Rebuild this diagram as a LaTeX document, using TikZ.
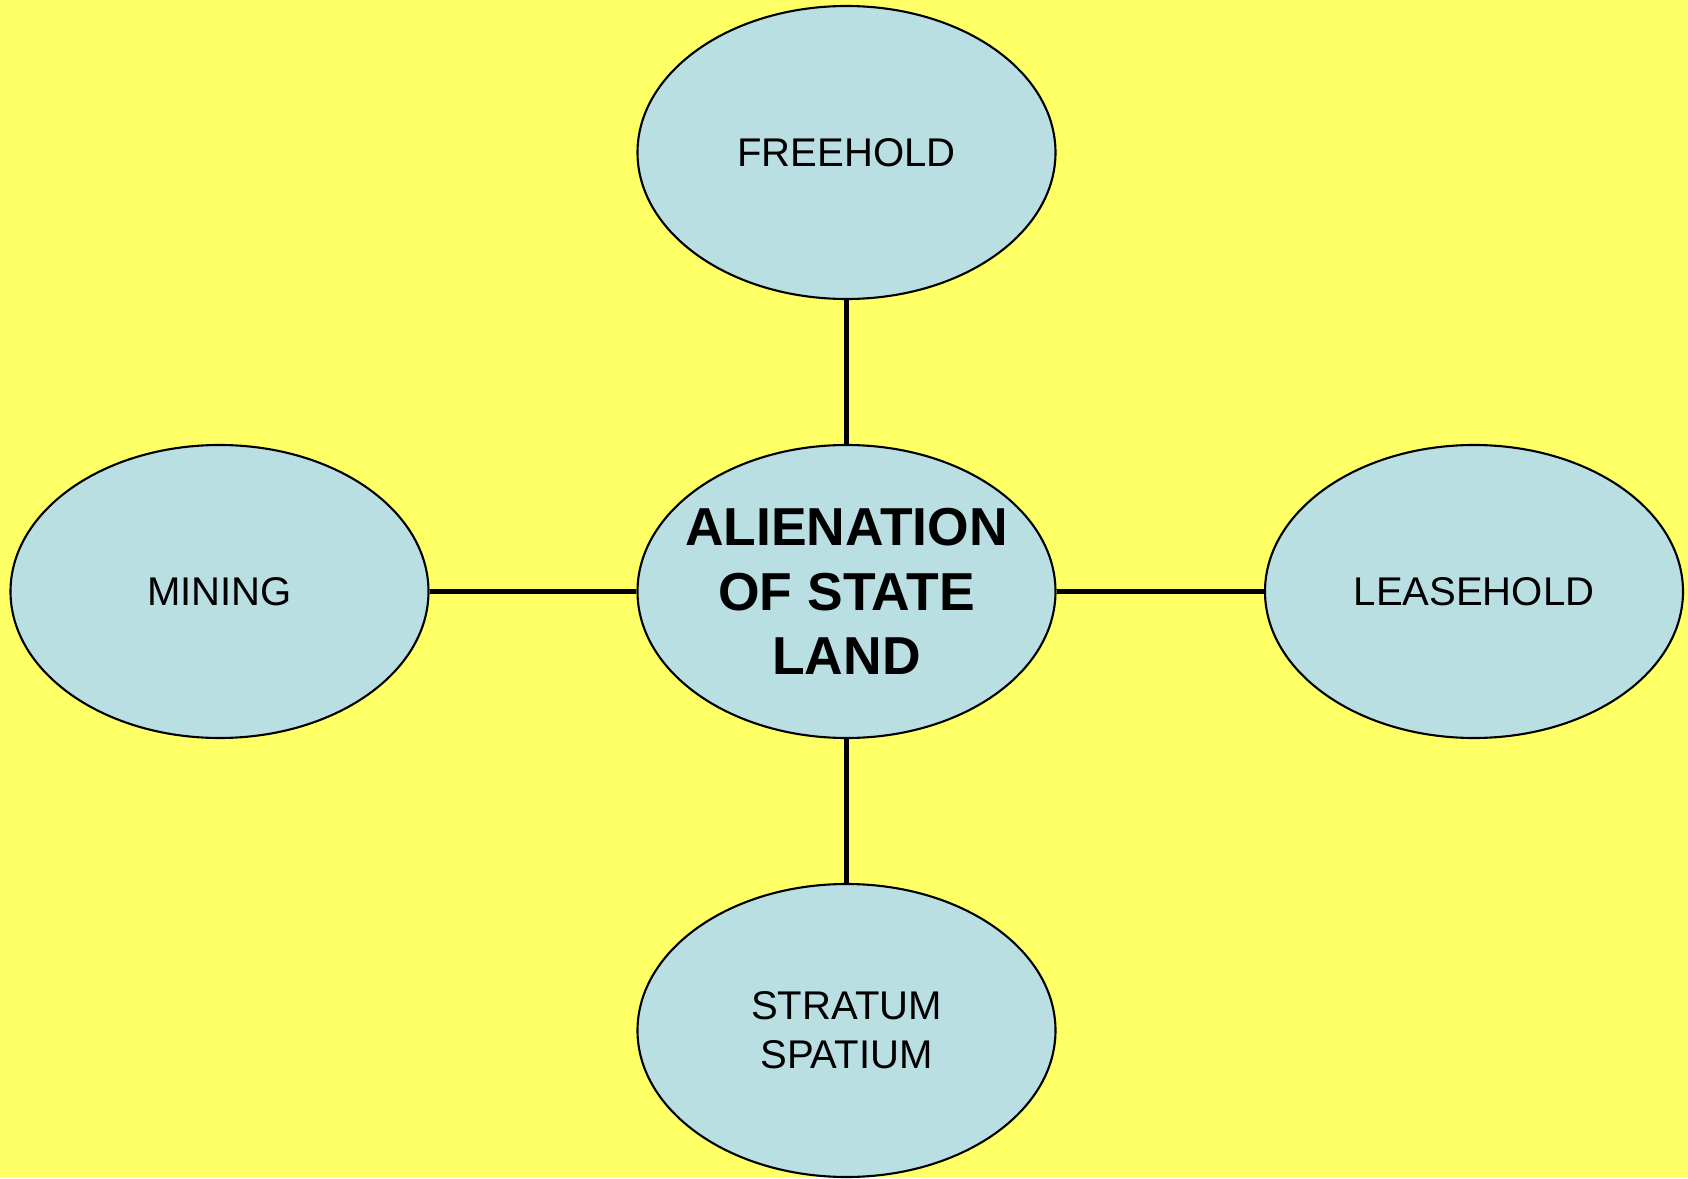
\documentclass[tikz,border=0pt]{standalone}
\usepackage{fontspec}
\setmainfont{Liberation Sans}
\usepackage{xcolor}
\usetikzlibrary{shapes.geometric}
\definecolor{bgyellow}{HTML}{FFFF66}
\definecolor{ovalblue}{HTML}{B9DFE3}
\tikzset{
	oval/.style={ellipse,draw=black,fill=ovalblue,line width=0.6pt,
		minimum width=4.18cm,minimum height=2.93cm,inner sep=0pt,
		align=center,font=\fontsize{11.4}{13.9}\selectfont},
	hub/.style={oval,inner xsep=-0.25cm,font=\fontsize{15.2}{18.3}\selectfont\bfseries},
	link/.style={line width=1.6pt}
}

\begin{document}
\begin{tikzpicture}
					\fill[bgyellow] (0,0) rectangle (16.88,11.77);
					\node[hub] (alien) at (8.465,5.855) {ALIENATION\\OF STATE\\LAND};
					\node[oval] (freehold) at (8.465,10.245) {FREEHOLD};
					\node[oval] (stratum) at (8.465,1.465) {STRATUM\\SPATIUM};
					\node[oval] (mining) at (2.195,5.855) {MINING};
					\node[oval] (leasehold) at (14.74,5.855) {LEASEHOLD};
					\draw[link] (alien) -- (freehold);
					\draw[link] (alien) -- (stratum);
					\draw[link] (alien) -- (mining);
					\draw[link] (alien) -- (leasehold);
				\end{tikzpicture}
\end{document}
